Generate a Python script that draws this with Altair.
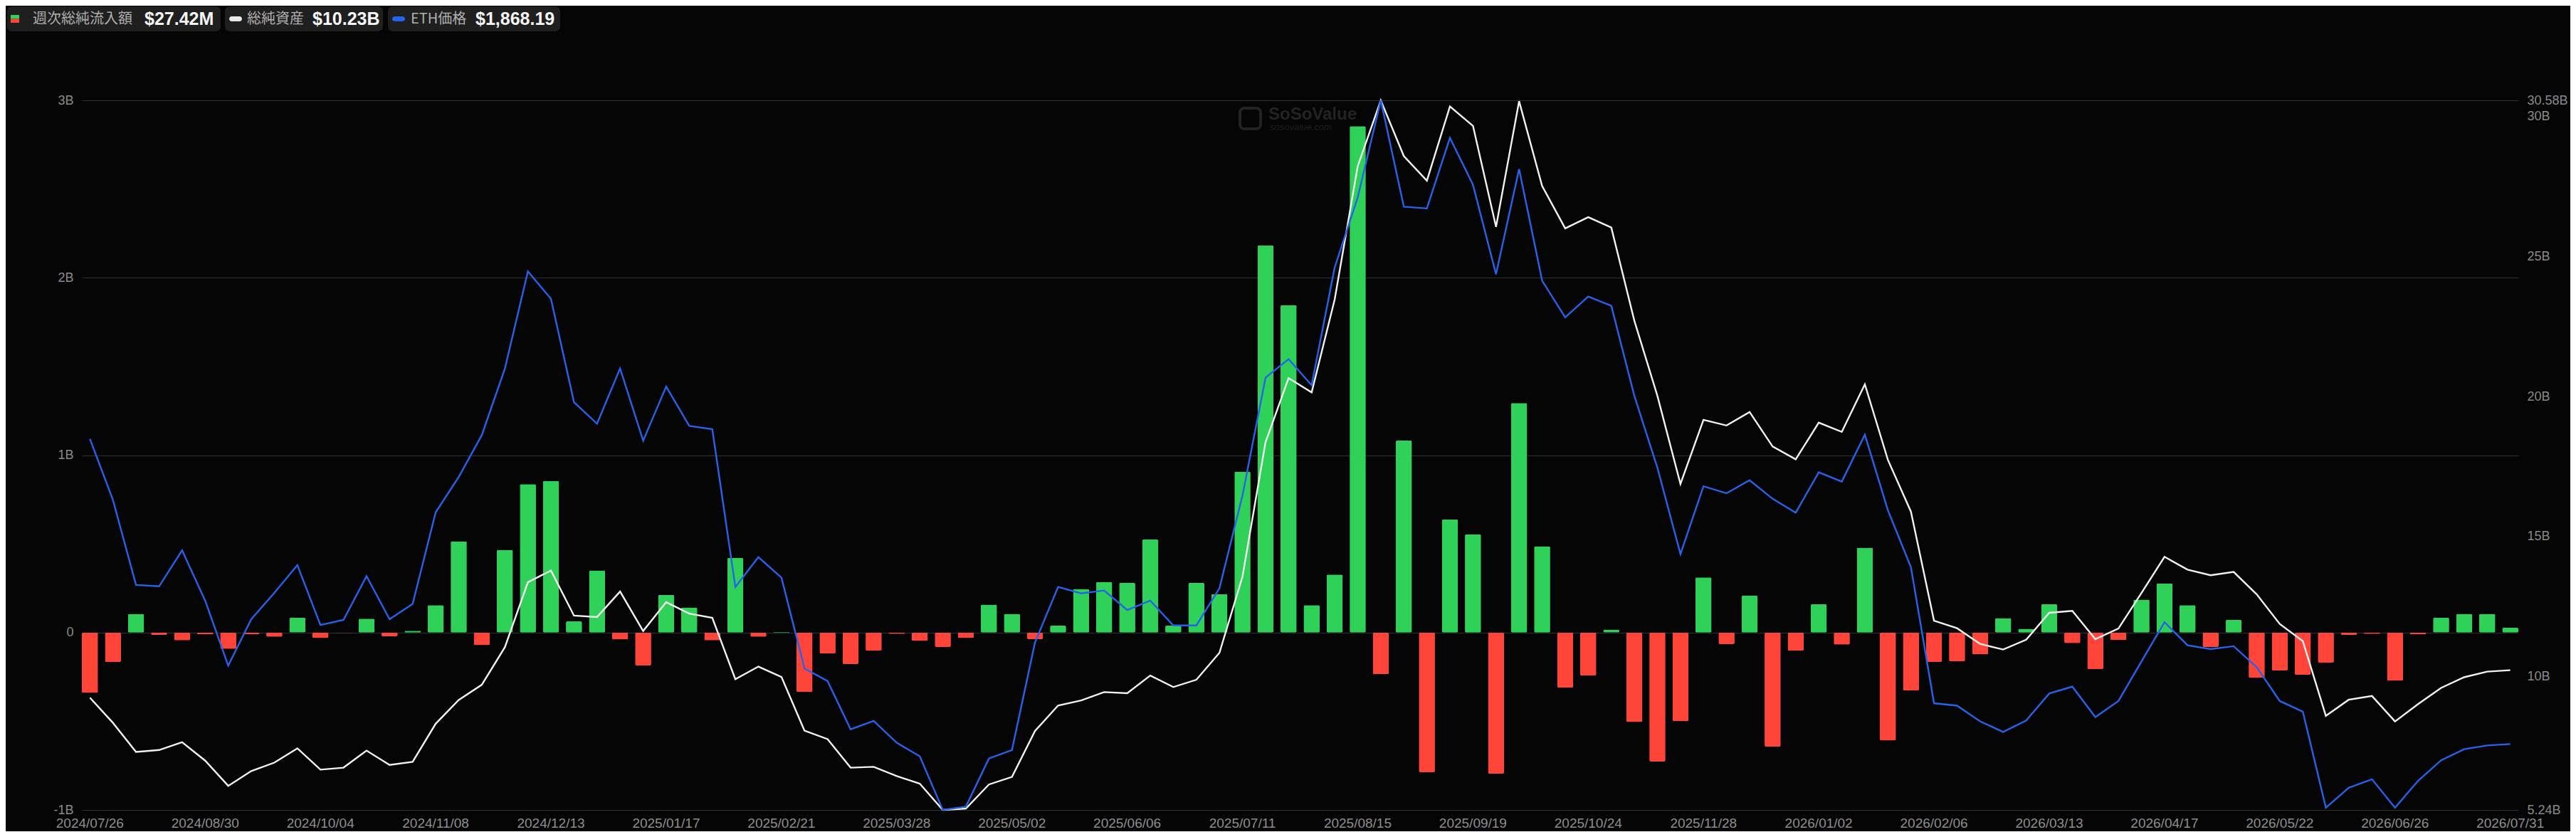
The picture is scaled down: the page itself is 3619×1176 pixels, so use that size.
import altair as alt
import pandas as pd

# ---- data ----
dates = [d.strftime('%Y/%m/%d') for d in pd.date_range('2024-07-26', periods=106, freq='7D')]
tick_labels = dates[::5]

# weekly total net inflow, billions USD
flows = [
    -0.340, -0.167, 0.105, -0.013, -0.044, -0.010, -0.092, -0.010, -0.024, 0.084,
    -0.031, -0.003, 0.078, -0.021, 0.010, 0.154, 0.515, -0.071, 0.465, 0.837,
    0.855, 0.063, 0.350, -0.039, -0.186, 0.212, 0.141, -0.044, 0.420, -0.024,
    0.003, -0.335, -0.118, -0.178, -0.102, -0.008, -0.047, -0.081, -0.031, 0.157,
    0.105, -0.037, 0.039, 0.246, 0.285, 0.280, 0.525, 0.039, 0.280, 0.217,
    0.907, 2.183, 1.846, 0.154, 0.327, 2.855, -0.235, 1.082, -0.787, 0.638,
    0.554, -0.795, 1.294, 0.486, -0.311, -0.243, 0.016, -0.505, -0.727, -0.499,
    0.311, -0.065, 0.209, -0.643, -0.102, 0.159, -0.068, 0.478, -0.609, -0.327,
    -0.165, -0.162, -0.123, 0.081, 0.021, 0.159, -0.060, -0.207, -0.042, 0.186,
    0.277, 0.154, -0.081, 0.071, -0.256, -0.214, -0.238, -0.170, -0.013, -0.008,
    -0.272, -0.010, 0.084, 0.105, 0.105, 0.02742,
]

# total net assets, billions USD
assets = [
    9.25, 8.35, 7.31, 7.38, 7.66, 7.00, 6.10, 6.63, 6.93, 7.44,
    6.68, 6.75, 7.36, 6.85, 6.96, 8.32, 9.17, 9.71, 11.05, 13.37,
    13.79, 12.18, 12.13, 13.04, 11.63, 12.66, 12.25, 12.10, 9.91, 10.36,
    9.99, 8.07, 7.77, 6.75, 6.78, 6.45, 6.18, 5.24, 5.29, 6.15,
    6.42, 8.06, 8.97, 9.15, 9.45, 9.41, 10.04, 9.63, 9.89, 10.85,
    13.57, 18.37, 20.66, 20.15, 23.47, 28.23, 30.58, 28.59, 27.71, 30.36,
    29.67, 26.06, 30.55, 27.52, 26.01, 26.41, 26.04, 22.71, 20.03, 16.88,
    19.17, 18.97, 19.45, 18.22, 17.76, 19.07, 18.74, 20.44, 17.74, 15.89,
    12.00, 11.73, 11.17, 10.97, 11.32, 12.28, 12.35, 11.34, 11.72, 12.99,
    14.28, 13.82, 13.62, 13.74, 12.94, 11.88, 11.27, 8.60, 9.18, 9.31,
    8.40, 9.02, 9.60, 9.98, 10.18, 10.23,
]

# ETH price, USD
eth = [
    3249, 2972, 2588, 2582, 2745, 2517, 2223, 2433, 2552, 2678,
    2407, 2430, 2628, 2433, 2502, 2917, 3077, 3266, 3566, 4007,
    3883, 3415, 3318, 3568, 3241, 3486, 3308, 3293, 2579, 2714,
    2621, 2210, 2153, 1935, 1973, 1874, 1813, 1570, 1585, 1803,
    1841, 2328, 2579, 2550, 2563, 2475, 2517, 2405, 2405, 2573,
    2993, 3526, 3610, 3492, 4025, 4342, 4781, 4300, 4292, 4611,
    4399, 3994, 4470, 3965, 3799, 3893, 3851, 3444, 3119, 2728,
    3035, 3003, 3062, 2978, 2915, 3098, 3056, 3268, 2926, 2668,
    2053, 2042, 1971, 1923, 1975, 2097, 2128, 1990, 2063, 2242,
    2420, 2315, 2298, 2311, 2216, 2063, 2015, 1580, 1671, 1709,
    1580, 1702, 1795, 1845, 1862, 1868.19,
]

legend_names = ['週次総純流入額', '総純資産', 'ETH価格']
legend_values = [f"${flows[-1] * 1000:.2f}M", f"${assets[-1]:.2f}B", f"${eth[-1]:,.2f}"]

df = pd.DataFrame({'date': dates, 'flow': flows, 'assets': assets, 'eth': eth})
one = pd.DataFrame({'k': [0]})

GREEN = '#30d158'
RED = '#ff453a'
WHITE = '#f2f2f2'
BLUE = '#2563eb'
BG = '#050505'
GRID = '#303030'
FONT = 'Liberation Sans'
CJK = 'Noto Sans CJK JP'

x_enc = alt.X('date:O', sort=dates,
              scale=alt.Scale(paddingInner=0.3, paddingOuter=0),
              axis=alt.Axis(values=tick_labels, labelAngle=0, title=None, domain=False,
                            ticks=False, grid=False, labelColor='#8e8e8e', labelFontSize=19,
                            labelPadding=9, labelFont=FONT))

base = alt.Chart(df)

bars = base.mark_bar(cornerRadius=2).encode(
    x=x_enc,
    y=alt.Y('flow:Q', scale=alt.Scale(domain=[-1, 3], nice=False, zero=False),
            axis=alt.Axis(orient='left', values=[-1, 0, 1, 2, 3], title=None, domain=False,
                          ticks=False, grid=True, gridColor=GRID, gridWidth=1.2,
                          labelExpr="datum.value == 0 ? '0' : datum.value + 'B'",
                          labelColor='#8a8a8a', labelFontSize=18, labelPadding=12,
                          labelFlush=False, labelOverlap=False, labelFont=FONT)),
    color=alt.condition('datum.flow >= 0', alt.value(GREEN), alt.value(RED)),
)

assets_line = base.mark_line(color=WHITE, strokeWidth=2.4).encode(
    x=x_enc,
    y=alt.Y('assets:Q', scale=alt.Scale(domain=[5.24, 30.58], nice=False, zero=False),
            axis=alt.Axis(orient='right', values=[5.24, 10, 15, 20, 25, 30, 30.58], title=None,
                          domain=False, ticks=False, grid=False,
                          labelExpr="(datum.value == 5.24 || datum.value == 30.58) ? format(datum.value, '.2f') + 'B' : datum.value + 'B'",
                          labelColor='#8a8a8a', labelFontSize=18, labelPadding=12,
                          labelFlush=False, labelOverlap=False, labelFont=FONT)),
)

eth_line = base.mark_line(color=BLUE, strokeWidth=2.4).encode(
    x=x_enc,
    y=alt.Y('eth:Q', scale=alt.Scale(domain=[1570, 4781], nice=False, zero=False), axis=None),
)

# ---- legend chips above the plot (pixel positions relative to plot origin) ----
leg = alt.Chart(one)
BOX_Y, BOX_Y2, MID = -132, -97, -114.5
legend_layers = []
boxes = [(-105, 195), (201, 423), (430, 672)]
for bx, bx2 in boxes:
    legend_layers.append(leg.mark_rect(color='#1f1f1f', cornerRadius=7).encode(
        x=alt.value(bx), x2=alt.value(bx2), y=alt.value(BOX_Y), y2=alt.value(BOX_Y2)))
# icon 1: split green / red square
legend_layers.append(leg.mark_rect(color=GREEN).encode(
    x=alt.value(-100), x2=alt.value(-88), y=alt.value(-120), y2=alt.value(-114.5)))
legend_layers.append(leg.mark_rect(color=RED).encode(
    x=alt.value(-100), x2=alt.value(-88), y=alt.value(-114.5), y2=alt.value(-109)))
# icons 2/3: pills
legend_layers.append(leg.mark_rect(color='#e8e8e8', cornerRadius=3.5).encode(
    x=alt.value(207), x2=alt.value(225), y=alt.value(-118), y2=alt.value(-111)))
legend_layers.append(leg.mark_rect(color=BLUE, cornerRadius=3.5).encode(
    x=alt.value(436), x2=alt.value(454), y=alt.value(-118), y2=alt.value(-111)))
name_x = [-69, 232, 462]
value_x = [88, 324, 553]
for i in range(3):
    legend_layers.append(leg.mark_text(text=legend_names[i], align='left', baseline='middle',
                                       font=CJK, fontSize=20, color='#b0b0b0').encode(
        x=alt.value(name_x[i]), y=alt.value(MID)))
    legend_layers.append(leg.mark_text(text=legend_values[i], align='left', baseline='middle',
                                       font=FONT, fontSize=25, fontWeight='bold', color='#f5f5f5').encode(
        x=alt.value(value_x[i]), y=alt.value(MID)))

# ---- watermark ----
wm = [
    leg.mark_rect(filled=False, stroke='#232323', strokeWidth=4, cornerRadius=6).encode(
        x=alt.value(1627), x2=alt.value(1656), y=alt.value(11), y2=alt.value(40)),
    leg.mark_text(text='SoSoValue', align='left', baseline='middle', font=FONT, fontSize=24,
                  fontWeight='bold', color='#232323').encode(x=alt.value(1667), y=alt.value(20)),
    leg.mark_text(text='sosovalue.com', align='left', baseline='middle', font=FONT, fontSize=13,
                  fontStyle='italic', color='#202020').encode(x=alt.value(1669), y=alt.value(38)),
]

chart = alt.layer(
    *wm, bars, assets_line, eth_line, *legend_layers
).resolve_scale(
    y='independent'
).properties(
    width=3423, height=997,
    autosize=alt.AutoSizeParams(type='none'),
    padding={'left': 107, 'top': 133, 'right': 73, 'bottom': 30},
    background=BG,
).configure_view(stroke=None)

chart.save("out.html", embed_options={"renderer": "svg", "actions": False})
